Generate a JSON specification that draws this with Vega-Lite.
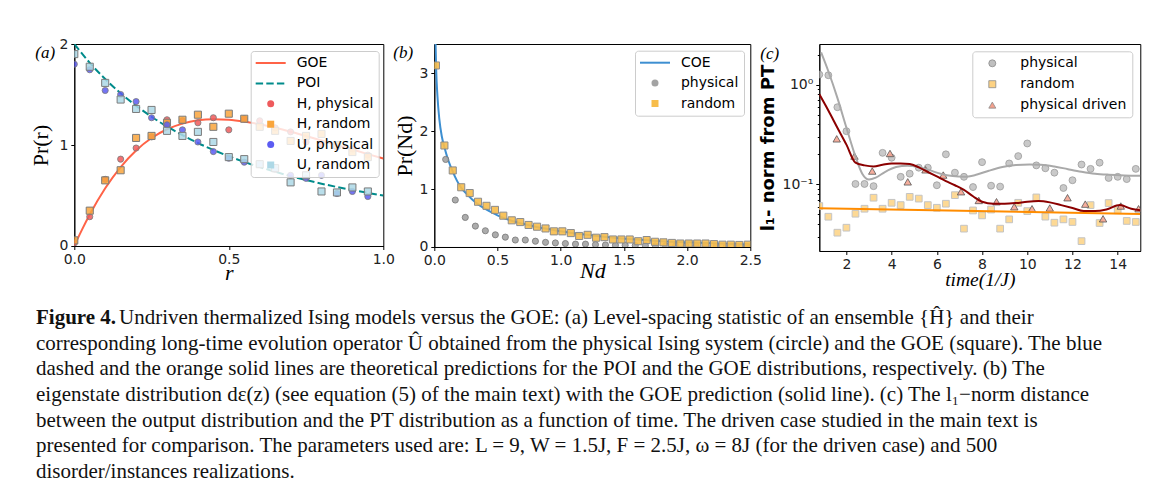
{
"$schema":"https://vega.github.io/schema/vega-lite/v6.json",
"background":"white",
"padding":{"left":29.3,"top":36,"right":0,"bottom":0},
"config":{
 "view":{"stroke":"#000","strokeWidth":1},
 "axis":{"grid":false,"domainColor":"#000","domainWidth":1,"tickColor":"#000","tickWidth":1,"tickSize":3.5,"labelFont":"DejaVu Sans","labelFontSize":14,"labelColor":"#222","labelPadding":3,"labelFlush":false,"labelOverlap":false,"labelBound":false,"titleFont":"Liberation Serif","titleFontSize":22,"titleFontWeight":"normal","titleColor":"#000"},
 "legend":{"labelFont":"DejaVu Sans","labelFontSize":14,"labelColor":"#000","symbolSize":49,"symbolOffset":8,"labelOffset":19,"rowPadding":6.4,"padding":5,"fillColor":"rgba(255,255,255,0.8)","strokeColor":"#cccccc","cornerRadius":3}
},
"datasets":{
 "a_goe":[{"r":0,"p":0},{"r":0.0125,"p":0.083},{"r":0.025,"p":0.162},{"r":0.05,"p":0.312},{"r":0.1,"p":0.572},{"r":0.15,"p":0.782},{"r":0.2,"p":0.946},{"r":0.25,"p":1.069},{"r":0.3,"p":1.156},{"r":0.35,"p":1.212},{"r":0.4,"p":1.244},{"r":0.45,"p":1.255},{"r":0.5,"p":1.25},{"r":0.55,"p":1.232},{"r":0.6,"p":1.205},{"r":0.65,"p":1.171},{"r":0.7,"p":1.132},{"r":0.75,"p":1.089},{"r":0.8,"p":1.045},{"r":0.85,"p":1.0},{"r":0.9,"p":0.955},{"r":0.95,"p":0.91},{"r":1.0,"p":0.866}],
 "a_poi":[{"r":0,"p":2.0},{"r":0.05,"p":1.814},{"r":0.1,"p":1.653},{"r":0.15,"p":1.512},{"r":0.2,"p":1.389},{"r":0.25,"p":1.28},{"r":0.3,"p":1.183},{"r":0.35,"p":1.097},{"r":0.4,"p":1.02},{"r":0.45,"p":0.951},{"r":0.5,"p":0.889},{"r":0.55,"p":0.832},{"r":0.6,"p":0.781},{"r":0.65,"p":0.735},{"r":0.7,"p":0.692},{"r":0.75,"p":0.653},{"r":0.8,"p":0.617},{"r":0.85,"p":0.584},{"r":0.9,"p":0.554},{"r":0.95,"p":0.526},{"r":1.0,"p":0.5}],
 "a_pts":[
  {"r":0,"p":0.03,"s":"H, physical"},{"r":0.05,"p":0.29,"s":"H, physical"},{"r":0.1,"p":0.66,"s":"H, physical"},{"r":0.15,"p":0.86,"s":"H, physical"},{"r":0.2,"p":0.97,"s":"H, physical"},{"r":0.25,"p":1.08,"s":"H, physical"},{"r":0.3,"p":1.25,"s":"H, physical"},{"r":0.35,"p":1.24,"s":"H, physical"},{"r":0.4,"p":1.22,"s":"H, physical"},{"r":0.45,"p":1.27,"s":"H, physical"},{"r":0.5,"p":1.15,"s":"H, physical"},{"r":0.55,"p":1.26,"s":"H, physical"},{"r":0.6,"p":1.24,"s":"H, physical"},{"r":0.65,"p":1.17,"s":"H, physical"},{"r":0.7,"p":1.13,"s":"H, physical"},{"r":0.75,"p":1.03,"s":"H, physical"},{"r":0.8,"p":1.01,"s":"H, physical"},{"r":0.85,"p":0.98,"s":"H, physical"},{"r":0.9,"p":0.96,"s":"H, physical"},{"r":0.95,"p":0.9,"s":"H, physical"},
  {"r":0,"p":0.056,"s":"H, random"},{"r":0.05,"p":0.35,"s":"H, random"},{"r":0.1,"p":0.65,"s":"H, random"},{"r":0.15,"p":0.75,"s":"H, random"},{"r":0.2,"p":1.07,"s":"H, random"},{"r":0.25,"p":1.09,"s":"H, random"},{"r":0.3,"p":1.22,"s":"H, random"},{"r":0.35,"p":1.25,"s":"H, random"},{"r":0.4,"p":1.3,"s":"H, random"},{"r":0.45,"p":1.18,"s":"H, random"},{"r":0.5,"p":1.31,"s":"H, random"},{"r":0.55,"p":1.26,"s":"H, random"},{"r":0.6,"p":1.18,"s":"H, random"},{"r":0.65,"p":1.14,"s":"H, random"},{"r":0.7,"p":1.04,"s":"H, random"},{"r":0.75,"p":1.09,"s":"H, random"},{"r":0.8,"p":1.11,"s":"H, random"},{"r":0.85,"p":1.0,"s":"H, random"},{"r":0.9,"p":0.93,"s":"H, random"},{"r":0.95,"p":0.88,"s":"H, random"},
  {"r":0,"p":1.8,"s":"U, physical"},{"r":0.05,"p":1.745,"s":"U, physical"},{"r":0.1,"p":1.54,"s":"U, physical"},{"r":0.15,"p":1.5,"s":"U, physical"},{"r":0.2,"p":1.43,"s":"U, physical"},{"r":0.25,"p":1.27,"s":"U, physical"},{"r":0.3,"p":1.2,"s":"U, physical"},{"r":0.35,"p":1.15,"s":"U, physical"},{"r":0.4,"p":1.03,"s":"U, physical"},{"r":0.45,"p":0.935,"s":"U, physical"},{"r":0.5,"p":0.87,"s":"U, physical"},{"r":0.55,"p":0.83,"s":"U, physical"},{"r":0.6,"p":0.81,"s":"U, physical"},{"r":0.65,"p":0.76,"s":"U, physical"},{"r":0.7,"p":0.7,"s":"U, physical"},{"r":0.75,"p":0.67,"s":"U, physical"},{"r":0.8,"p":0.7,"s":"U, physical"},{"r":0.85,"p":0.52,"s":"U, physical"},{"r":0.9,"p":0.54,"s":"U, physical"},{"r":0.95,"p":0.49,"s":"U, physical"},
  {"r":0,"p":1.9,"s":"U, random"},{"r":0.05,"p":1.775,"s":"U, random"},{"r":0.1,"p":1.615,"s":"U, random"},{"r":0.15,"p":1.45,"s":"U, random"},{"r":0.2,"p":1.357,"s":"U, random"},{"r":0.25,"p":1.347,"s":"U, random"},{"r":0.3,"p":1.14,"s":"U, random"},{"r":0.35,"p":1.09,"s":"U, random"},{"r":0.4,"p":1.13,"s":"U, random"},{"r":0.45,"p":1.03,"s":"U, random"},{"r":0.5,"p":0.88,"s":"U, random"},{"r":0.55,"p":0.86,"s":"U, random"},{"r":0.6,"p":0.81,"s":"U, random"},{"r":0.65,"p":0.77,"s":"U, random"},{"r":0.7,"p":0.63,"s":"U, random"},{"r":0.75,"p":0.7,"s":"U, random"},{"r":0.8,"p":0.54,"s":"U, random"},{"r":0.85,"p":0.53,"s":"U, random"},{"r":0.9,"p":0.58,"s":"U, random"},{"r":0.95,"p":0.54,"s":"U, random"}],
 "b_line":[{"x":0.004,"p":4.5},{"x":0.01,"p":3.5},{"x":0.015,"p":3.05},{"x":0.025,"p":2.6},{"x":0.04,"p":2.2},{"x":0.06,"p":1.9},{"x":0.08,"p":1.72},{"x":0.11,"p":1.5},{"x":0.146,"p":1.3},{"x":0.18,"p":1.14},{"x":0.213,"p":1.02},{"x":0.25,"p":0.93},{"x":0.3,"p":0.82},{"x":0.35,"p":0.73},{"x":0.4,"p":0.66},{"x":0.45,"p":0.6},{"x":0.5,"p":0.545},{"x":0.6,"p":0.46},{"x":0.7,"p":0.4},{"x":0.8,"p":0.35},{"x":0.9,"p":0.31},{"x":1.0,"p":0.27},{"x":1.2,"p":0.21},{"x":1.4,"p":0.165},{"x":1.6,"p":0.13},{"x":1.8,"p":0.1},{"x":2.0,"p":0.08},{"x":2.25,"p":0.06},{"x":2.5,"p":0.045}],
 "b_phys":[{"x":0.09,"p":1.51,"s":"physical"},{"x":0.166,"p":0.81,"s":"physical"},{"x":0.245,"p":0.51,"s":"physical"},{"x":0.325,"p":0.36,"s":"physical"},{"x":0.404,"p":0.28,"s":"physical"},{"x":0.483,"p":0.21,"s":"physical"},{"x":0.562,"p":0.17,"s":"physical"},{"x":0.641,"p":0.12,"s":"physical"},{"x":0.72,"p":0.12,"s":"physical"},{"x":0.8,"p":0.1,"s":"physical"},{"x":0.88,"p":0.08,"s":"physical"},{"x":0.958,"p":0.07,"s":"physical"},{"x":1.037,"p":0.06,"s":"physical"},{"x":1.117,"p":0.05,"s":"physical"},{"x":1.196,"p":0.05,"s":"physical"},{"x":1.275,"p":0.04,"s":"physical"},{"x":1.354,"p":0.035,"s":"physical"},{"x":1.433,"p":0.03,"s":"physical"},{"x":1.51,"p":0.03,"s":"physical"},{"x":1.59,"p":0.025,"s":"physical"},{"x":1.67,"p":0.025,"s":"physical"},{"x":1.75,"p":0.02,"s":"physical"},{"x":1.83,"p":0.02,"s":"physical"},{"x":1.91,"p":0.02,"s":"physical"},{"x":1.99,"p":0.015,"s":"physical"},{"x":2.07,"p":0.015,"s":"physical"},{"x":2.15,"p":0.015,"s":"physical"},{"x":2.23,"p":0.01,"s":"physical"},{"x":2.31,"p":0.01,"s":"physical"},{"x":2.39,"p":0.01,"s":"physical"},{"x":2.47,"p":0.01,"s":"physical"}],
 "b_rand":[{"x":0.013,"p":3.13,"s":"random"},{"x":0.08,"p":1.75,"s":"random"},{"x":0.146,"p":1.32,"s":"random"},{"x":0.213,"p":1.03,"s":"random"},{"x":0.28,"p":0.93,"s":"random"},{"x":0.346,"p":0.78,"s":"random"},{"x":0.413,"p":0.71,"s":"random"},{"x":0.48,"p":0.64,"s":"random"},{"x":0.546,"p":0.54,"s":"random"},{"x":0.613,"p":0.46,"s":"random"},{"x":0.68,"p":0.43,"s":"random"},{"x":0.746,"p":0.38,"s":"random"},{"x":0.813,"p":0.35,"s":"random"},{"x":0.88,"p":0.32,"s":"random"},{"x":0.946,"p":0.27,"s":"random"},{"x":1.013,"p":0.27,"s":"random"},{"x":1.08,"p":0.24,"s":"random"},{"x":1.146,"p":0.19,"s":"random"},{"x":1.213,"p":0.21,"s":"random"},{"x":1.28,"p":0.16,"s":"random"},{"x":1.346,"p":0.17,"s":"random"},{"x":1.413,"p":0.13,"s":"random"},{"x":1.48,"p":0.13,"s":"random"},{"x":1.546,"p":0.13,"s":"random"},{"x":1.613,"p":0.1,"s":"random"},{"x":1.68,"p":0.12,"s":"random"},{"x":1.746,"p":0.09,"s":"random"},{"x":1.813,"p":0.08,"s":"random"},{"x":1.88,"p":0.07,"s":"random"},{"x":1.946,"p":0.06,"s":"random"},{"x":2.013,"p":0.06,"s":"random"},{"x":2.08,"p":0.06,"s":"random"},{"x":2.146,"p":0.06,"s":"random"},{"x":2.213,"p":0.05,"s":"random"},{"x":2.28,"p":0.04,"s":"random"},{"x":2.346,"p":0.04,"s":"random"},{"x":2.413,"p":0.035,"s":"random"},{"x":2.48,"p":0.04,"s":"random"}],
 "c_phys":[{"t":0.8,"v":1.26,"s":"physical"},{"t":1.2,"v":1.24,"s":"physical"},{"t":1.6,"v":0.593,"s":"physical"},{"t":2.0,"v":0.341,"s":"physical"},{"t":2.4,"v":0.101,"s":"physical"},{"t":2.8,"v":0.101,"s":"physical"},{"t":3.2,"v":0.096,"s":"physical"},{"t":3.6,"v":0.207,"s":"physical"},{"t":4.0,"v":0.185,"s":"physical"},{"t":4.4,"v":0.119,"s":"physical"},{"t":4.8,"v":0.128,"s":"physical"},{"t":5.2,"v":0.147,"s":"physical"},{"t":5.6,"v":0.147,"s":"physical"},{"t":6.0,"v":0.098,"s":"physical"},{"t":6.4,"v":0.2,"s":"physical"},{"t":6.8,"v":0.131,"s":"physical"},{"t":7.2,"v":0.119,"s":"physical"},{"t":7.6,"v":0.094,"s":"physical"},{"t":8.0,"v":0.167,"s":"physical"},{"t":8.4,"v":0.097,"s":"physical"},{"t":8.8,"v":0.095,"s":"physical"},{"t":9.2,"v":0.162,"s":"physical"},{"t":9.6,"v":0.192,"s":"physical"},{"t":10.0,"v":0.257,"s":"physical"},{"t":10.4,"v":0.155,"s":"physical"},{"t":10.8,"v":0.145,"s":"physical"},{"t":11.2,"v":0.131,"s":"physical"},{"t":11.6,"v":0.092,"s":"physical"},{"t":12.0,"v":0.11,"s":"physical"},{"t":12.4,"v":0.158,"s":"physical"},{"t":12.8,"v":0.143,"s":"physical"},{"t":13.2,"v":0.165,"s":"physical"},{"t":13.6,"v":0.116,"s":"physical"},{"t":14.0,"v":0.119,"s":"physical"},{"t":14.4,"v":0.113,"s":"physical"},{"t":14.8,"v":0.143,"s":"physical"}],
 "c_rand":[{"t":0.8,"v":0.0607,"s":"random"},{"t":1.2,"v":0.0474,"s":"random"},{"t":1.6,"v":0.0328,"s":"random"},{"t":2.0,"v":0.0368,"s":"random"},{"t":2.4,"v":0.0508,"s":"random"},{"t":2.8,"v":0.057,"s":"random"},{"t":3.2,"v":0.0735,"s":"random"},{"t":3.6,"v":0.057,"s":"random"},{"t":4.0,"v":0.0654,"s":"random"},{"t":4.4,"v":0.062,"s":"random"},{"t":4.8,"v":0.075,"s":"random"},{"t":5.2,"v":0.072,"s":"random"},{"t":5.6,"v":0.062,"s":"random"},{"t":6.0,"v":0.0583,"s":"random"},{"t":6.4,"v":0.064,"s":"random"},{"t":6.8,"v":0.078,"s":"random"},{"t":7.2,"v":0.036,"s":"random"},{"t":7.6,"v":0.0548,"s":"random"},{"t":8.0,"v":0.0489,"s":"random"},{"t":8.4,"v":0.056,"s":"random"},{"t":8.8,"v":0.036,"s":"random"},{"t":9.2,"v":0.0446,"s":"random"},{"t":9.6,"v":0.0654,"s":"random"},{"t":10.0,"v":0.054,"s":"random"},{"t":10.4,"v":0.074,"s":"random"},{"t":10.8,"v":0.0475,"s":"random"},{"t":11.2,"v":0.0413,"s":"random"},{"t":11.6,"v":0.0446,"s":"random"},{"t":12.0,"v":0.042,"s":"random"},{"t":12.4,"v":0.027,"s":"random"},{"t":12.8,"v":0.062,"s":"random"},{"t":13.2,"v":0.041,"s":"random"},{"t":13.6,"v":0.065,"s":"random"},{"t":14.0,"v":0.055,"s":"random"},{"t":14.4,"v":0.043,"s":"random"},{"t":14.8,"v":0.042,"s":"random"}],
 "c_drv":[{"t":1.571,"v":0.286,"s":"physical driven"},{"t":2.356,"v":0.192,"s":"physical driven"},{"t":3.142,"v":0.136,"s":"physical driven"},{"t":3.927,"v":0.204,"s":"physical driven"},{"t":4.712,"v":0.106,"s":"physical driven"},{"t":5.498,"v":0.14,"s":"physical driven"},{"t":6.283,"v":0.124,"s":"physical driven"},{"t":7.069,"v":0.0844,"s":"physical driven"},{"t":7.854,"v":0.069,"s":"physical driven"},{"t":8.639,"v":0.067,"s":"physical driven"},{"t":9.425,"v":0.0597,"s":"physical driven"},{"t":10.21,"v":0.057,"s":"physical driven"},{"t":10.996,"v":0.058,"s":"physical driven"},{"t":11.781,"v":0.0735,"s":"physical driven"},{"t":12.566,"v":0.0634,"s":"physical driven"},{"t":13.352,"v":0.0452,"s":"physical driven"},{"t":14.137,"v":0.0607,"s":"physical driven"},{"t":14.923,"v":0.057,"s":"physical driven"}],
 "c_gfit":[{"t":0.88,"v":2.1},{"t":1.2,"v":1.36},{"t":1.6,"v":0.736},{"t":2.0,"v":0.37},{"t":2.4,"v":0.19},{"t":2.7,"v":0.128},{"t":3.0,"v":0.112},{"t":3.3,"v":0.117},{"t":3.7,"v":0.133},{"t":4.2,"v":0.149},{"t":4.7,"v":0.154},{"t":5.2,"v":0.149},{"t":5.7,"v":0.138},{"t":6.2,"v":0.127},{"t":6.7,"v":0.121},{"t":7.2,"v":0.119},{"t":7.7,"v":0.124},{"t":8.3,"v":0.137},{"t":8.9,"v":0.149},{"t":9.5,"v":0.156},{"t":10.1,"v":0.158},{"t":10.6,"v":0.157},{"t":11.2,"v":0.151},{"t":11.8,"v":0.142},{"t":12.4,"v":0.134},{"t":13.0,"v":0.128},{"t":13.6,"v":0.125},{"t":14.3,"v":0.123},{"t":15.0,"v":0.122}],
 "c_rfit":[{"t":0.8,"v":0.8},{"t":1.2,"v":0.55},{"t":1.6,"v":0.37},{"t":2.0,"v":0.25},{"t":2.4,"v":0.165},{"t":2.8,"v":0.155},{"t":3.2,"v":0.151},{"t":3.6,"v":0.157},{"t":4.0,"v":0.162},{"t":4.4,"v":0.162},{"t":4.8,"v":0.16},{"t":5.2,"v":0.148},{"t":5.6,"v":0.133},{"t":6.0,"v":0.12},{"t":6.4,"v":0.108},{"t":6.8,"v":0.098},{"t":7.2,"v":0.088},{"t":7.6,"v":0.076},{"t":8.0,"v":0.067},{"t":8.5,"v":0.064},{"t":9.0,"v":0.064},{"t":9.5,"v":0.065},{"t":10.0,"v":0.067},{"t":10.5,"v":0.068},{"t":11.0,"v":0.066},{"t":11.5,"v":0.062},{"t":12.0,"v":0.058},{"t":12.5,"v":0.054},{"t":13.0,"v":0.054},{"t":13.5,"v":0.056},{"t":14.1,"v":0.062},{"t":14.6,"v":0.057},{"t":15.0,"v":0.055}],
 "c_ofit":[{"t":0.8,"v":0.0575},{"t":15.0,"v":0.0505}],
 "cap_bold":[{"line":1,"text":"Figure 4."}],
 "cap_first":[{"line":1,"text":"Undriven thermalized Ising models versus the GOE: (a) Level-spacing statistic of an ensemble {Ĥ} and their"}],
 "cap_rest":[
  {"line":2,"text":"corresponding long-time evolution operator Û obtained from the physical Ising system (circle) and the GOE (square). The blue"},
  {"line":3,"text":"dashed and the orange solid lines are theoretical predictions for the POI and the GOE distributions, respectively. (b) The"},
  {"line":4,"text":"eigenstate distribution dε(z) (see equation (5) of the main text) with the GOE prediction (solid line). (c) The l₁−norm distance"},
  {"line":5,"text":"between the output distribution and the PT distribution as a function of time. The driven case studied in the main text is"},
  {"line":6,"text":"presented for comparison. The parameters used are: L = 9, W = 1.5J, F = 2.5J, ω = 8J (for the driven case) and 500"},
  {"line":7,"text":"disorder/instances realizations."}]
},
"spacing":17,
"resolve":{"scale":{"x":"independent","y":"independent","color":"independent","shape":"independent"}},
"vconcat":[
{
"hconcat":[
{
 "width":309,"height":202,
 "layer":[
  {"data":{"name":"a_goe"},"mark":{"type":"line","strokeWidth":2,"color":"#ff6347","interpolate":"monotone","clip":true},
   "encoding":{
    "x":{"field":"r","type":"quantitative","scale":{"domain":[0,1],"nice":false,"zero":false},"axis":{"values":[0,0.5,1],"format":".1f","title":"r","titleFontStyle":"italic","titleBaseline":"alphabetic","titlePadding":13}},
    "y":{"field":"p","type":"quantitative","scale":{"domain":[0,2],"nice":false},"axis":{"values":[0,1,2],"labelExpr":"format(datum.value, 'd')","title":"Pr(r)","titlePadding":6,"labelOverlap":false,"labelFlush":false,"labelBound":false}}
   }},
  {"data":{"name":"a_poi"},"mark":{"type":"line","strokeWidth":2,"color":"#008b8b","strokeDash":[7.4,3.2],"interpolate":"monotone","clip":true},
   "encoding":{"x":{"field":"r","type":"quantitative"},"y":{"field":"p","type":"quantitative"}}},
  {"data":{"name":"a_pts"},"transform":[{"filter":"datum.s==='H, physical'"}],"mark":{"type":"point","filled":true,"size":38,"stroke":"#7a7a7a","strokeWidth":0.8,"opacity":1,"fillOpacity":0.85,"clip":true},
   "encoding":{"x":{"field":"r","type":"quantitative"},"y":{"field":"p","type":"quantitative"},
    "color":{"field":"s","type":"nominal","scale":{"domain":["GOE","POI","H, physical","H, random","U, physical","U, random"],"range":["#ff6347","#008b8b","#ee5a5c","#f9a53c","#5c5cf2","#add8e6"]},
     "legend":{"title":null,"orient":"none","legendX":176.4,"legendY":7,"symbolStrokeWidth":0}},
    "shape":{"field":"s","type":"nominal","scale":{"domain":["GOE","POI","H, physical","H, random","U, physical","U, random"],"range":["M-4.286,-0.286H4.286V0.286H-4.286Z","M-4.286,-0.286H-2.171V0.286H-4.286ZM-1.257,-0.286H0.857V0.286H-1.257ZM1.771,-0.286H3.886V0.286H1.771Z","circle","square","circle","square"]},
     "legend":{"title":null,"orient":"none","legendX":176.4,"legendY":7,"symbolStrokeWidth":0}}}},
  {"data":{"name":"a_pts"},"transform":[{"filter":"datum.s==='H, random'"}],"mark":{"type":"point","filled":true,"size":50,"stroke":"#7a7a7a","strokeWidth":1,"opacity":1,"fillOpacity":0.85,"clip":true},
   "encoding":{"x":{"field":"r","type":"quantitative"},"y":{"field":"p","type":"quantitative"},"color":{"field":"s","type":"nominal"},"shape":{"field":"s","type":"nominal"}}},
  {"data":{"name":"a_pts"},"transform":[{"filter":"datum.s==='U, physical'"}],"mark":{"type":"point","filled":true,"size":38,"stroke":"#7a7a7a","strokeWidth":0.8,"opacity":1,"fillOpacity":0.85,"clip":true},
   "encoding":{"x":{"field":"r","type":"quantitative"},"y":{"field":"p","type":"quantitative"},"color":{"field":"s","type":"nominal"},"shape":{"field":"s","type":"nominal"}}},
  {"data":{"name":"a_pts"},"transform":[{"filter":"datum.s==='U, random'"}],"mark":{"type":"point","filled":true,"size":50,"stroke":"#7a7a7a","strokeWidth":1,"opacity":1,"fillOpacity":0.85,"clip":true},
   "encoding":{"x":{"field":"r","type":"quantitative"},"y":{"field":"p","type":"quantitative"},"color":{"field":"s","type":"nominal"},"shape":{"field":"s","type":"nominal"}}},
  {"data":{"values":[{}]},"mark":{"type":"text","text":"(a)","align":"left","baseline":"middle","font":"Liberation Serif","fontStyle":"italic","fontSize":17,"color":"#000","dx":-39,"dy":9},
   "encoding":{"x":{"datum":0,"type":"quantitative"},"y":{"datum":2,"type":"quantitative"}}}
 ]
},
{
 "width":316,"height":203,
 "layer":[
  {"data":{"name":"b_line"},"mark":{"type":"line","strokeWidth":2,"color":"#3d8fd1","interpolate":"monotone","clip":true},
   "encoding":{
    "x":{"field":"x","type":"quantitative","scale":{"domain":[0,2.5],"nice":false,"zero":false},"axis":{"values":[0,0.5,1,1.5,2,2.5],"format":".1f","title":"Nd","titleFontStyle":"italic","titleBaseline":"alphabetic","titlePadding":10}},
    "y":{"field":"p","type":"quantitative","scale":{"domain":[0,3.5],"nice":false},"axis":{"values":[0,1,2,3],"format":"d","title":"Pr(Nd)","titlePadding":2}}
   }},
  {"data":{"name":"b_phys"},"mark":{"type":"point","filled":true,"size":38,"stroke":"#777777","strokeWidth":0.8,"opacity":1,"fillOpacity":0.9,"clip":true},
   "encoding":{"x":{"field":"x","type":"quantitative"},"y":{"field":"p","type":"quantitative"},
    "color":{"field":"s","type":"nominal","scale":{"domain":["COE","physical","random"],"range":["#3d8fd1","#a3a3a3","#f7bd4b"]},
     "legend":{"title":null,"orient":"none","legendX":200.7,"legendY":6.7,"symbolStrokeWidth":0}},
    "shape":{"field":"s","type":"nominal","scale":{"domain":["COE","physical","random"],"range":["M-4.286,-0.286H4.286V0.286H-4.286Z","circle","square"]},
     "legend":{"title":null,"orient":"none","legendX":200.7,"legendY":6.7,"symbolStrokeWidth":0}}}},
  {"data":{"name":"b_rand"},"mark":{"type":"point","filled":true,"size":50,"stroke":"#8c8c8c","strokeWidth":1,"opacity":1,"fillOpacity":0.9,"clip":true},
   "encoding":{"x":{"field":"x","type":"quantitative"},"y":{"field":"p","type":"quantitative"},"color":{"field":"s","type":"nominal"},"shape":{"field":"s","type":"nominal"}}},
  {"data":{"values":[{}]},"mark":{"type":"text","text":"(b)","align":"left","baseline":"middle","font":"Liberation Serif","fontStyle":"italic","fontSize":17,"color":"#000","dx":-41,"dy":9},
   "encoding":{"x":{"datum":0,"type":"quantitative"},"y":{"datum":3.5,"type":"quantitative"}}}
 ]
},
{
 "width":321,"height":207,
 "resolve":{"axis":{"y":"independent"}},
 "layer":[
  {"data":{"name":"c_phys"},"mark":{"type":"point","filled":true,"size":48,"stroke":"#9a9a9a","strokeWidth":0.8,"opacity":1,"fillOpacity":0.85,"clip":true},
   "encoding":{
    "x":{"field":"t","type":"quantitative","scale":{"domain":[0.8,15],"nice":false,"zero":false},"axis":{"values":[2,4,6,8,10,12,14],"format":"d","title":"time(1/J)","titleFontStyle":"italic","titleFontSize":19.5,"titleBaseline":"alphabetic","titlePadding":14}},
    "y":{"field":"v","type":"quantitative","scale":{"type":"log","domain":[0.0215,2.55],"nice":false},"axis":{"orient":"left","values":[0.1,1],"labelExpr":"datum.value >= 0.5 ? '10⁰' : '10⁻¹'","title":"l₁- norm from PT","titleFont":"DejaVu Sans","titleFontWeight":"bold","titleFontSize":18,"titlePadding":4}},
    "color":{"field":"s","type":"nominal","scale":{"domain":["physical","random","physical driven"],"range":["#bfbfbf","#fdd283","#f4a08c"]},
     "legend":{"title":null,"orient":"none","legendX":153,"legendY":7.3,"labelOffset":21,"rowPadding":6.9,"symbolStrokeColor":"#8a8a8a","symbolStrokeWidth":0.8}},
    "shape":{"field":"s","type":"nominal","scale":{"domain":["physical","random","physical driven"],"range":["circle","square","triangle-up"]},
     "legend":{"title":null,"orient":"none","legendX":153,"legendY":7.3,"labelOffset":21,"rowPadding":6.9,"symbolStrokeColor":"#8a8a8a","symbolStrokeWidth":0.8}}}},
  {"data":{"name":"c_rand"},"mark":{"type":"point","filled":true,"size":45,"stroke":"#c4c4c4","strokeWidth":1,"opacity":1,"fillOpacity":0.85,"clip":true},
   "encoding":{"x":{"field":"t","type":"quantitative"},"y":{"field":"v","type":"quantitative","axis":{"orient":"left","values":[0.03,0.04,0.05,0.06,0.07,0.08,0.09,0.2,0.3,0.4,0.5,0.6,0.7,0.8,0.9,2],"labels":false,"domain":false,"tickSize":2,"title":null}},"color":{"field":"s","type":"nominal"},"shape":{"field":"s","type":"nominal"}}},
  {"data":{"name":"c_drv"},"mark":{"type":"point","filled":true,"size":55,"stroke":"#555555","strokeWidth":0.8,"opacity":1,"fillOpacity":0.85,"clip":true},
   "encoding":{"x":{"field":"t","type":"quantitative"},"y":{"field":"v","type":"quantitative","axis":null},"color":{"field":"s","type":"nominal"},"shape":{"field":"s","type":"nominal"}}},
  {"data":{"name":"c_gfit"},"mark":{"type":"line","strokeWidth":2,"color":"#a9a9a9","interpolate":"monotone","clip":true},
   "encoding":{"x":{"field":"t","type":"quantitative"},"y":{"field":"v","type":"quantitative","axis":null}}},
  {"data":{"name":"c_rfit"},"mark":{"type":"line","strokeWidth":2,"color":"#8b0000","interpolate":"monotone","clip":true},
   "encoding":{"x":{"field":"t","type":"quantitative"},"y":{"field":"v","type":"quantitative","axis":null}}},
  {"data":{"name":"c_ofit"},"mark":{"type":"line","strokeWidth":2,"color":"#ff8c00","clip":true},
   "encoding":{"x":{"field":"t","type":"quantitative"},"y":{"field":"v","type":"quantitative","axis":null}}},
  {"data":{"values":[{}]},"mark":{"type":"text","text":"(c)","align":"left","baseline":"middle","font":"Liberation Serif","fontStyle":"italic","fontSize":17,"color":"#000","dx":-59,"dy":10},
   "encoding":{"x":{"datum":0.8,"type":"quantitative"},"y":{"datum":2.55,"type":"quantitative","axis":null}}}
 ]
}
],
"spacing":-3,
"bounds":"full",
"align":"each",
"resolve":{"scale":{"x":"independent","y":"independent","color":"independent","shape":"independent"},"legend":{"color":"independent","shape":"independent"}}
},
{
 "width":1080,"height":154,
 "view":{"stroke":null},
 "layer":[
  {"data":{"name":"cap_bold"},"mark":{"type":"text","align":"left","baseline":"middle","font":"Liberation Serif","fontSize":21,"fontWeight":"bold","color":"#111","dx":-38.3},
   "encoding":{"x":{"value":0},"y":{"field":"line","type":"quantitative","scale":{"domain":[1,7],"reverse":true,"nice":false},"axis":null},"text":{"field":"text"}}},
  {"data":{"name":"cap_first"},"mark":{"type":"text","align":"left","baseline":"middle","font":"Liberation Serif","fontSize":21,"color":"#111","dx":44.7},
   "encoding":{"x":{"value":0},"y":{"field":"line","type":"quantitative"},"text":{"field":"text"}}},
  {"data":{"name":"cap_rest"},"mark":{"type":"text","align":"left","baseline":"middle","font":"Liberation Serif","fontSize":21,"color":"#111","dx":-38.3},
   "encoding":{"x":{"value":0},"y":{"field":"line","type":"quantitative"},"text":{"field":"text"}}}
 ]
}
]
}
